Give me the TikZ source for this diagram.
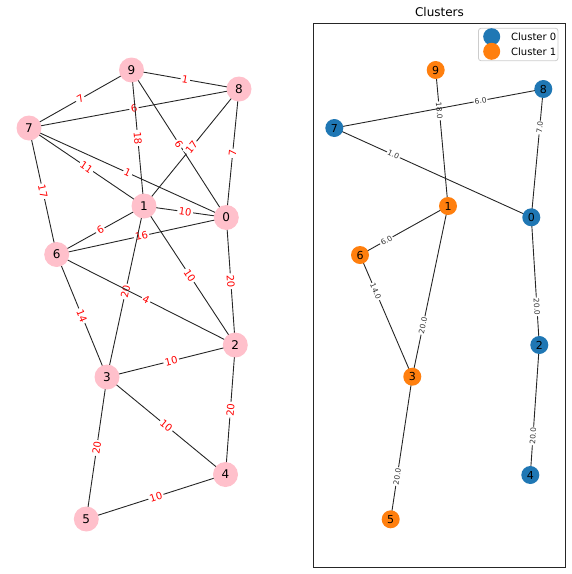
\documentclass[tikz,border=0pt]{standalone}
\usepackage{fontspec}
\setmainfont{DejaVu Sans}
\usetikzlibrary{backgrounds}
\definecolor{nodepink}{RGB}{255,192,203}
\definecolor{cblue}{HTML}{1F77B4}
\definecolor{corange}{HTML}{FF7F0E}
\definecolor{lblred}{RGB}{255,0,0}
\begin{document}
\begin{tikzpicture}[x=1pt,y=-1pt,
  pnode/.style={circle,fill=nodepink,minimum size=25pt,inner sep=0pt,font=\fontsize{12}{14}\selectfont},
  bnode/.style={circle,fill=cblue,minimum size=18pt,inner sep=0pt,font=\fontsize{11}{13}\selectfont},
  onode/.style={circle,fill=corange,minimum size=18pt,inner sep=0pt,font=\fontsize{11}{13}\selectfont},
  edge/.style={draw=black!85,line width=0.9pt},
  rlbl/.style={sloped,fill=white,inner sep=1.5pt,text=lblred,font=\fontsize{10}{12}\selectfont},
  klbl/.style={sloped,fill=white,inner sep=1pt,text=black!80,font=\fontsize{7.5}{9}\selectfont,pos=0.7},
  legmark/.style={circle,minimum size=17pt,inner sep=0pt},
  legtext/.style={anchor=west,inner sep=0pt,font=\fontsize{10}{12}\selectfont},
]
\useasboundingbox (0,0) rectangle (572,574);

% ---------- left graph ----------
\node[pnode] (L9) at (131.5,70) {9};
\node[pnode] (L8) at (239,89) {8};
\node[pnode] (L7) at (29,128) {7};
\node[pnode] (L1) at (144,206) {1};
\node[pnode] (L0) at (226.3,217.5) {0};
\node[pnode] (L6) at (56.7,254.5) {6};
\node[pnode] (L2) at (235.3,345) {2};
\node[pnode] (L3) at (107,377) {3};
\node[pnode] (L4) at (225.5,474.5) {4};
\node[pnode] (L5) at (86.3,519) {5};

\begin{scope}[on background layer]
\draw[edge] (L9.center) -- node[rlbl]{1} (L8.center);
\draw[edge] (L9.center) -- node[rlbl]{7} (L7.center);
\draw[edge] (L8.center) -- node[rlbl]{6} (L7.center);
\draw[edge] (L9.center) -- node[rlbl]{18} (L1.center);
\draw[edge] (L9.center) -- node[rlbl]{6} (L0.center);
\draw[edge] (L8.center) -- node[rlbl]{17} (L1.center);
\draw[edge] (L8.center) -- node[rlbl]{7} (L0.center);
\draw[edge] (L7.center) -- node[rlbl]{11} (L1.center);
\draw[edge] (L7.center) -- node[rlbl]{1} (L0.center);
\draw[edge] (L7.center) -- node[rlbl]{17} (L6.center);
\draw[edge] (L1.center) -- node[rlbl]{10} (L0.center);
\draw[edge] (L1.center) -- node[rlbl]{6} (L6.center);
\draw[edge] (L6.center) -- node[rlbl]{16} (L0.center);
\draw[edge] (L1.center) -- node[rlbl]{10} (L2.center);
\draw[edge] (L0.center) -- node[rlbl]{20} (L2.center);
\draw[edge] (L1.center) -- node[rlbl]{20} (L3.center);
\draw[edge] (L6.center) -- node[rlbl]{4} (L2.center);
\draw[edge] (L6.center) -- node[rlbl]{14} (L3.center);
\draw[edge] (L3.center) -- node[rlbl]{10} (L2.center);
\draw[edge] (L2.center) -- node[rlbl]{20} (L4.center);
\draw[edge] (L3.center) -- node[rlbl]{10} (L4.center);
\draw[edge] (L3.center) -- node[rlbl]{20} (L5.center);
\draw[edge] (L5.center) -- node[rlbl]{10} (L4.center);
\end{scope}

% ---------- right panel ----------
\node[font=\fontsize{12}{14}\selectfont] (title) at (439.5,12.5) {Clusters};
\draw[line width=0.8pt,draw=black!85] (313,23) rectangle (565.5,567);

\node[onode] (R9) at (435.7,70) {9};
\node[bnode] (R8) at (543.3,89) {8};
\node[bnode] (R7) at (334.3,128) {7};
\node[onode] (R1) at (448,206) {1};
\node[bnode] (R0) at (531.3,217.3) {0};
\node[onode] (R6) at (360,255) {6};
\node[bnode] (R2) at (539.3,345) {2};
\node[onode] (R3) at (412.3,376.7) {3};
\node[bnode] (R4) at (530.3,475) {4};
\node[onode] (R5) at (390.7,519.3) {5};

\begin{scope}[on background layer]
\draw[edge] (R1.center) -- node[klbl]{18.0} (R9.center);
\draw[edge] (R7.center) -- node[klbl]{6.0} (R8.center);
\draw[edge] (R0.center) -- node[klbl]{7.0} (R8.center);
\draw[edge] (R0.center) -- node[klbl]{1.0} (R7.center);
\draw[edge] (R1.center) -- node[klbl]{6.0} (R6.center);
\draw[edge] (R3.center) -- node[klbl]{14.0} (R6.center);
\draw[edge] (R1.center) -- node[klbl]{20.0} (R3.center);
\draw[edge] (R0.center) -- node[klbl]{20.0} (R2.center);
\draw[edge] (R2.center) -- node[klbl]{20.0} (R4.center);
\draw[edge] (R3.center) -- node[klbl]{20.0} (R5.center);
\end{scope}

% legend
\draw[rounded corners=2.5pt,draw=black!20,fill=white,line width=0.8pt] (478.5,28.3) rectangle (558,60.7);
\node[legmark,fill=cblue] (lg0) at (491.7,36.7) {};
\node[legmark,fill=corange] (lg1) at (491.7,51.3) {};
\node[legtext] (lt0) at (511,36.7) {Cluster 0};
\node[legtext] (lt1) at (511,51.3) {Cluster 1};
\end{tikzpicture}
\end{document}
